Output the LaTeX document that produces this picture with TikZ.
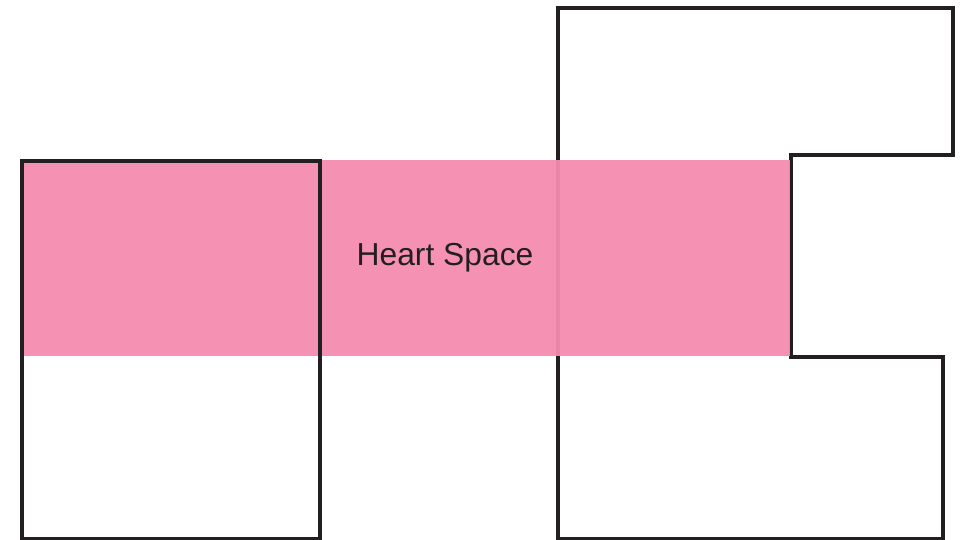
\documentclass[tikz,border=0pt]{standalone}
\usepackage{fontspec}
\setmainfont{Liberation Sans}
\definecolor{heartpink}{RGB}{244,140,175}
\definecolor{wallline}{RGB}{35,31,32}
\tikzset{
  wall/.style={draw=wallline, line width=3.6pt, line join=miter},
  heartfill/.style={fill=heartpink},
}
\begin{document}
\begin{tikzpicture}[x=1pt,y=-1pt]
\useasboundingbox (0,0) rectangle (964,540);
% right room outline
\draw[wall] (558,8) -- (953,8) -- (953,155) -- (791,155) -- (791,357) -- (943,357) -- (943,539) -- (558,539) -- cycle;
% heart space band
\fill[heartfill, opacity=0.95] (22,160) rectangle (789.5,356);
% left room outline
\draw[wall] (22,161) rectangle (320,539);
\node[text=wallline, font=\fontsize{31.8}{38}\selectfont] (heart) at (445,258) {Heart Space};
\end{tikzpicture}
\end{document}
